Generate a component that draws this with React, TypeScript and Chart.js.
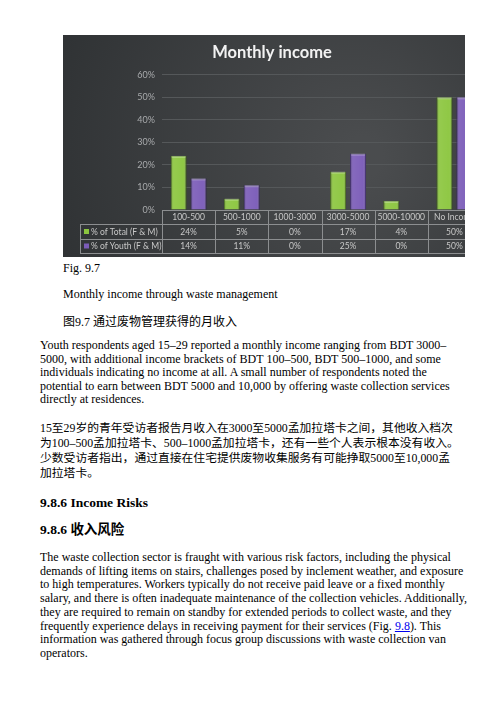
import { useRef, useEffect } from 'react';
import Chart from 'chart.js/auto';

const categories = ['100-500', '500-1000', '1000-3000', '3000-5000', '5000-10000', 'No Income'];
const totalShare = [24, 5, 0, 17, 4, 50];
const youthShare = [14, 11, 0, 25, 0, 50];
const seriesNames = ['% of Total (F & M)', '% of Youth (F & M)'];
const seriesColors = ['#8cc63f', '#7b5cb8'];
const seriesEdges = ['#5f8f26', '#523a8a'];
const yTicks = [0, 10, 20, 30, 40, 50, 60];

const chartFont = 'Lato, "Open Sans", sans-serif';

// dark background behind the whole chart
const backgroundPlugin = {
  id: 'darkBackground',
  beforeDraw(chart: Chart) {
    const { ctx, width, height } = chart;
    ctx.save();
    const g = ctx.createRadialGradient(width * 0.7, height * 0.55, 20, width * 0.6, height * 0.5, width * 0.75);
    g.addColorStop(0, '#4a4c4e');
    g.addColorStop(1, '#2c2f31');
    ctx.fillStyle = g;
    ctx.fillRect(0, 0, width, height);
    ctx.restore();
  },
};

// soft bevel on each bar
const bevelPlugin = {
  id: 'bevel',
  afterDatasetsDraw(chart: Chart) {
    const { ctx } = chart;
    ctx.save();
    chart.data.datasets.forEach((_, di) => {
      chart.getDatasetMeta(di).data.forEach((bar: any) => {
        const w = bar.width;
        const left = bar.x - w / 2;
        const top = Math.min(bar.y, bar.base);
        const h = Math.abs(bar.base - bar.y);
        if (h < 1) return;
        const g = ctx.createLinearGradient(left, 0, left + w, 0);
        g.addColorStop(0, 'rgba(0,0,0,0.25)');
        g.addColorStop(0.2, 'rgba(255,255,255,0.08)');
        g.addColorStop(0.8, 'rgba(255,255,255,0.03)');
        g.addColorStop(1, 'rgba(0,0,0,0.3)');
        ctx.fillStyle = g;
        ctx.fillRect(left, top, w, h);
        ctx.fillStyle = 'rgba(255,255,255,0.25)';
        ctx.fillRect(left + 1, top, w - 2, 2);
      });
    });
    ctx.restore();
  },
};

// data table under the plot, columns taken from the x scale
const tablePlugin = {
  id: 'dataTable',
  afterDraw(chart: Chart) {
    const { ctx, chartArea } = chart;
    const xs = chart.scales.x;
    const n = categories.length;
    const step = (xs.right - xs.left) / n;
    const top = chartArea.bottom;
    const rows = [top, top + 14, top + 29, top + 43];
    const labelLeft = 17;
    ctx.save();
    ctx.strokeStyle = '#8c8e90';
    ctx.lineWidth = 1;
    ctx.beginPath();
    ctx.moveTo(xs.left, rows[0] + 0.5);
    ctx.lineTo(xs.right, rows[0] + 0.5);
    for (let r = 1; r < rows.length; r++) {
      ctx.moveTo(labelLeft, rows[r] + 0.5);
      ctx.lineTo(xs.right, rows[r] + 0.5);
    }
    ctx.moveTo(labelLeft + 0.5, rows[1]);
    ctx.lineTo(labelLeft + 0.5, rows[3]);
    for (let i = 0; i <= n; i++) {
      const x = Math.round(xs.left + i * step) + 0.5;
      ctx.moveTo(x, rows[0]);
      ctx.lineTo(x, rows[3]);
    }
    ctx.stroke();

    ctx.font = `8.5px ${chartFont}`;
    ctx.textBaseline = 'middle';
    ctx.fillStyle = '#c8c8c8';
    ctx.textAlign = 'center';
    categories.forEach((c, i) => {
      const cx = xs.getPixelForValue(i);
      ctx.fillText(c, cx, (rows[0] + rows[1]) / 2 + 0.5);
      chart.data.datasets.forEach((ds, di) => {
        ctx.fillText(`${ds.data[i]}%`, cx, (rows[di + 1] + rows[di + 2]) / 2 + 0.5);
      });
    });
    ctx.textAlign = 'left';
    seriesNames.forEach((name, di) => {
      const cy = (rows[di + 1] + rows[di + 2]) / 2;
      ctx.fillStyle = seriesColors[di];
      ctx.fillRect(labelLeft + 4, cy - 2.5, 5, 5);
      ctx.fillStyle = '#c8c8c8';
      ctx.fillText(name, labelLeft + 11, cy + 0.5);
    });
    ctx.restore();
  },
};

const IncomeChart = () => {
  const chartRef = useRef<HTMLCanvasElement | null>(null);
  const chartInstance = useRef<Chart | null>(null);

  useEffect(() => {
    if (!chartRef.current) return;
    if (chartInstance.current) chartInstance.current.destroy();

    chartInstance.current = new Chart(chartRef.current, {
      type: 'bar',
      data: {
        labels: categories,
        datasets: [
          {
            label: seriesNames[0],
            data: totalShare,
            backgroundColor: seriesColors[0],
            borderColor: seriesEdges[0],
            borderWidth: 1,
          },
          {
            label: seriesNames[1],
            data: youthShare,
            backgroundColor: seriesColors[1],
            borderColor: seriesEdges[1],
            borderWidth: 1,
          },
        ],
      },
      options: {
        animation: false,
        responsive: true,
        maintainAspectRatio: false,
        devicePixelRatio: 1,
        layout: { padding: { top: 0, right: 10, bottom: 47, left: 0 } },
        datasets: { bar: { categoryPercentage: 0.75, barPercentage: 0.8 } },
        plugins: {
          legend: { display: false },
          tooltip: { enabled: false },
          title: {
            display: true,
            text: 'Monthly income',
            color: '#f2f2f2',
            font: { family: chartFont, size: 16.5, weight: 'bold' },
            padding: { top: 8, bottom: 12 },
          },
        },
        scales: {
          x: { display: false },
          y: {
            min: yTicks[0],
            max: yTicks[yTicks.length - 1],
            afterFit: (scale: any) => {
              scale.width = 99;
            },
            afterBuildTicks: (scale: any) => {
              scale.ticks = yTicks.map((v) => ({ value: v }));
            },
            ticks: {
              color: '#a8aaac',
              font: { family: chartFont, size: 9 },
              padding: 7,
              callback: (v: any) => `${v}%`,
            },
            grid: { color: '#55585a', drawTicks: false },
            border: { display: false },
          },
        },
      },
      plugins: [backgroundPlugin, bevelPlugin, tablePlugin],
    });

    return () => {
      if (chartInstance.current) {
        chartInstance.current.destroy();
        chartInstance.current = null;
      }
    };
  }, []);

  return (
    <div style={{ position: 'absolute', left: 55, top: 27, width: 402, height: 222, overflow: 'hidden' }}>
      <div style={{ position: 'relative', width: 428, height: 222 }}>
        <canvas ref={chartRef}></canvas>
      </div>
    </div>
  );
};

const serif = '"Liberation Serif", "Times New Roman", serif';
const mixed = '"Liberation Serif", "Noto Sans CJK SC", serif';

const block = (left: number, top: number, size: number, lh: number, extra: any = {}) => ({
  position: 'absolute' as const,
  left,
  top,
  fontSize: size,
  lineHeight: `${lh}px`,
  whiteSpace: 'nowrap' as const,
  fontFamily: serif,
  color: '#000',
  ...extra,
});

export default function App() {
  return (
    <div style={{ position: 'relative', width: 484, height: 690 }}>
      <IncomeChart />
      <div style={block(55, 253, 12, 14)}>Fig. 9.7</div>
      <div style={block(55, 279, 12, 14)}>Monthly income through waste management</div>
      <div style={block(55, 306, 12, 16, { fontFamily: mixed })}>图9.7 通过废物管理获得的月收入</div>
      <div style={block(32, 331, 12, 13.5)}>
        Youth respondents aged 15–29 reported a monthly income ranging from BDT 3000–
        <br />
        5000, with additional income brackets of BDT 100–500, BDT 500–1000, and some
        <br />
        individuals indicating no income at all. A small number of respondents noted the
        <br />
        potential to earn between BDT 5000 and 10,000 by offering waste collection services
        <br />
        directly at residences.
      </div>
      <div style={block(32, 412.5, 11.8, 15, { fontFamily: mixed })}>
        15至29岁的青年受访者报告月收入在3000至5000孟加拉塔卡之间，其他收入档次
        <br />
        为100–500孟加拉塔卡、500–1000孟加拉塔卡，还有一些个人表示根本没有收入。
        <br />
        少数受访者指出，通过直接在住宅提供废物收集服务有可能挣取5000至10,000孟
        <br />
        加拉塔卡。
      </div>
      <div style={block(32, 485.5, 13.5, 17, { fontWeight: 'bold' })}>9.8.6 Income Risks</div>
      <div style={block(32, 513, 13.5, 17, { fontWeight: 'bold', fontFamily: mixed })}>9.8.6 收入风险</div>
      <div style={block(32, 543, 12, 13.7)}>
        The waste collection sector is fraught with various risk factors, including the physical
        <br />
        demands of lifting items on stairs, challenges posed by inclement weather, and exposure
        <br />
        to high temperatures. Workers typically do not receive paid leave or a fixed monthly
        <br />
        salary, and there is often inadequate maintenance of the collection vehicles. Additionally,
        <br />
        they are required to remain on standby for extended periods to collect waste, and they
        <br />
        frequently experience delays in receiving payment for their services (Fig.{' '}
        <span style={{ color: '#0000ee', textDecoration: 'underline' }}>9.8</span>). This
        <br />
        information was gathered through focus group discussions with waste collection van
        <br />
        operators.
      </div>
    </div>
  );
}
